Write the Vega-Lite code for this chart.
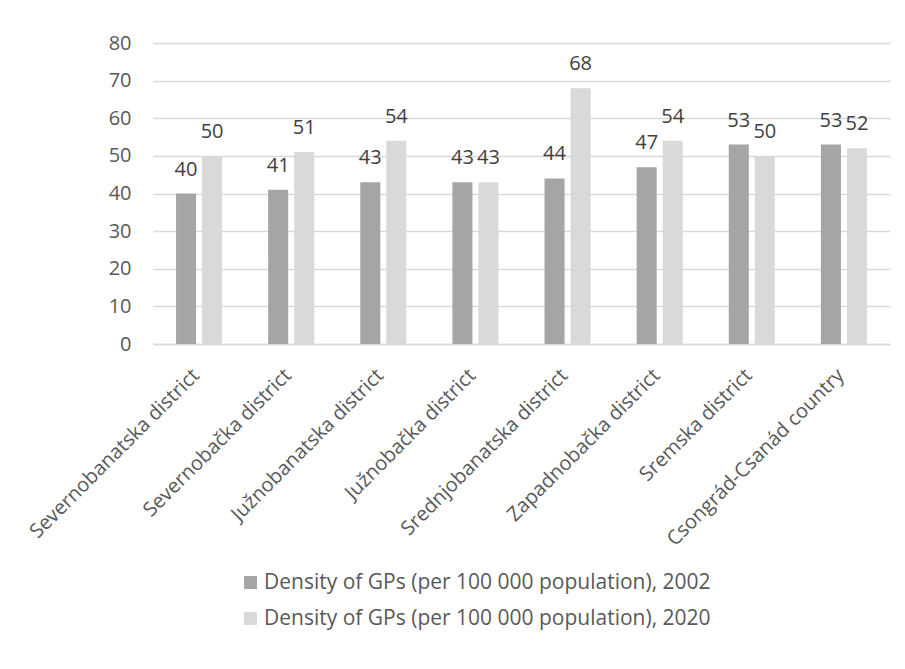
{
  "$schema": "https://vega.github.io/schema/vega-lite/v6.json",
  "autosize": {"type": "none"},
  "padding": {"left": 153, "top": 43, "right": 15, "bottom": 325},
  "width": 737,
  "height": 301,
  "background": "white",
  "config": {
    "font": "Open Sans",
    "view": {"stroke": null},
    "axis": {"labelFont": "Open Sans", "labelColor": "#595959", "labelFontSize": 20, "ticks": false, "title": null, "labelLimit": 0},
    "legend": {"labelFont": "Open Sans", "labelColor": "#595959", "labelFontSize": 21, "labelLimit": 0}
  },
  "data": {
    "values": [
      {"district": "Severnobanatska district", "series": "Density of GPs (per 100 000 population), 2002", "value": 40},
      {"district": "Severnobanatska district", "series": "Density of GPs (per 100 000 population), 2020", "value": 50},
      {"district": "Severnobačka district", "series": "Density of GPs (per 100 000 population), 2002", "value": 41},
      {"district": "Severnobačka district", "series": "Density of GPs (per 100 000 population), 2020", "value": 51},
      {"district": "Južnobanatska district", "series": "Density of GPs (per 100 000 population), 2002", "value": 43},
      {"district": "Južnobanatska district", "series": "Density of GPs (per 100 000 population), 2020", "value": 54},
      {"district": "Južnobačka district", "series": "Density of GPs (per 100 000 population), 2002", "value": 43},
      {"district": "Južnobačka district", "series": "Density of GPs (per 100 000 population), 2020", "value": 43},
      {"district": "Srednjobanatska district", "series": "Density of GPs (per 100 000 population), 2002", "value": 44},
      {"district": "Srednjobanatska district", "series": "Density of GPs (per 100 000 population), 2020", "value": 68},
      {"district": "Zapadnobačka district", "series": "Density of GPs (per 100 000 population), 2002", "value": 47},
      {"district": "Zapadnobačka district", "series": "Density of GPs (per 100 000 population), 2020", "value": 54},
      {"district": "Sremska district", "series": "Density of GPs (per 100 000 population), 2002", "value": 53},
      {"district": "Sremska district", "series": "Density of GPs (per 100 000 population), 2020", "value": 50},
      {"district": "Csongrád-Csanád country", "series": "Density of GPs (per 100 000 population), 2002", "value": 53},
      {"district": "Csongrád-Csanád country", "series": "Density of GPs (per 100 000 population), 2020", "value": 52}
    ]
  },
  "encoding": {
    "x": {
      "field": "district", "type": "nominal", "sort": null,
      "scale": {"paddingInner": 0.5, "paddingOuter": 0.25},
      "axis": {"labelAngle": -45, "labelAlign": "right", "labelBaseline": "middle", "labelPadding": 28, "labelOffset": -3, "domainColor": "#d9d9d9", "domainWidth": 1.5, "grid": false}
    },
    "xOffset": {"field": "series", "type": "nominal", "scale": {"paddingInner": 0.23, "paddingOuter": 0}},
    "y": {
      "field": "value", "type": "quantitative",
      "scale": {"domain": [0, 80], "nice": false},
      "axis": {"values": [0, 10, 20, 30, 40, 50, 60, 70, 80], "domain": false, "gridColor": "#d9d9d9", "gridWidth": 1.5, "labelPadding": 22}
    }
  },
  "layer": [
    {
      "mark": {"type": "bar"},
      "encoding": {
        "color": {
          "field": "series", "type": "nominal",
          "scale": {"range": ["#a5a5a5", "#d9d9d9"]},
          "legend": {"title": null, "orient": "none", "legendX": 87, "legendY": 529, "symbolType": "square", "symbolSize": 169, "symbolStrokeWidth": 0, "labelOffset": 3, "rowPadding": 14}
        }
      }
    },
    {
      "mark": {"type": "text", "baseline": "alphabetic", "dy": -18, "fontSize": 20, "color": "#404040", "font": "Open Sans"},
      "encoding": {"text": {"field": "value", "type": "quantitative"}}
    }
  ]
}
